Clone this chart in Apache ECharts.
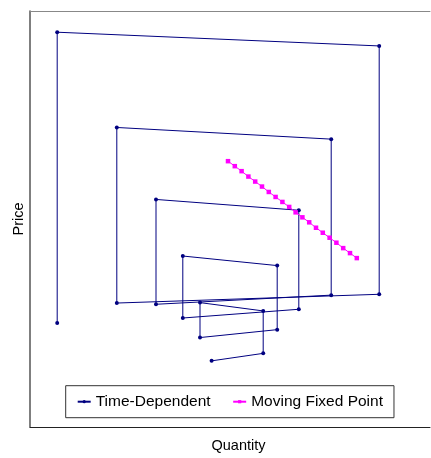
<!DOCTYPE html>
<html>
<head>
<meta charset="utf-8">
<script src="https://cdn.jsdelivr.net/npm/echarts@6/dist/echarts.min.js"></script>
<style>html,body{margin:0;padding:0;background:#fff;}#c{width:431px;height:458px;}</style>
</head>
<body>
<div id="c"></div>
<script>
// Time-dependent cobweb path (quantity, price)
var cobwebQuantity = [6.8, 6.8, 87.3, 87.3, 21.7, 21.7, 75.3, 75.3, 31.5, 31.5, 67.2, 67.2, 38.2, 38.2, 61.8, 61.8, 42.5, 42.5, 58.3, 58.3, 45.4];
var cobwebPrice    = [25.0, 94.9, 91.6, 31.9, 29.8, 72.0, 69.2, 31.7, 29.5, 54.7, 52.1, 28.3, 26.2, 41.1, 38.8, 23.4, 21.5, 29.9, 27.9, 17.7, 15.9];
// Moving fixed point (quantity, price)
var fixedQuantity = [49.5, 51.2, 52.9, 54.6, 56.3, 58.0, 59.7, 61.4, 63.1, 64.8, 66.4, 68.1, 69.8, 71.5, 73.2, 74.9, 76.6, 78.3, 80.0, 81.7];
var fixedPrice    = [63.9, 62.7, 61.5, 60.2, 59.0, 57.8, 56.5, 55.3, 54.1, 52.9, 51.6, 50.4, 49.2, 47.9, 46.7, 45.5, 44.3, 43.0, 41.8, 40.6];
var seriesNames = ['Time-Dependent', 'Moving Fixed Point'];
var axisNames = {x: 'Quantity', y: 'Price'};

function pairs(xs, ys){ return xs.map(function(x,i){ return [x, ys[i]]; }); }

var chart = echarts.init(document.getElementById('c'), null, {renderer:'canvas'});
var font = '"Liberation Sans", Arial, sans-serif';
var hidden = {axisTick: {show: false}, axisLabel: {show: false}, splitLine: {show: false}};
chart.setOption({
  animation: false,
  grid: {left: 30, top: 11, right: 1, bottom: 28.5, show: false},
  xAxis: [
    Object.assign({
      type: 'value', min: 0, max: 100, position: 'bottom',
      name: axisNames.x, nameLocation: 'middle', nameGap: 11,
      nameTextStyle: {fontFamily: font, fontSize: 14.5, color: '#000', padding: [0, 0, 0, 17]},
      axisLine: {show: true, lineStyle: {color: '#222', width: 1}}
    }, hidden),
    Object.assign({
      type: 'value', min: 0, max: 100, position: 'top',
      axisLine: {show: true, lineStyle: {color: '#888', width: 1}}
    }, hidden)
  ],
  yAxis: Object.assign({
    type: 'value', min: 0, max: 100,
    name: axisNames.y, nameLocation: 'middle', nameGap: 4,
    nameTextStyle: {fontFamily: font, fontSize: 14.5, color: '#000'},
    axisLine: {show: true, lineStyle: {color: '#555', width: 1.5}}
  }, hidden),
  legend: {
    left: 65.7, top: 385.7,
    orient: 'horizontal',
    padding: [8, 11, 8, 11],
    itemGap: 21.6, itemWidth: 13, itemHeight: 4,
    borderColor: '#333', borderWidth: 1,
    textStyle: {fontFamily: font, fontSize: 15.5, color: '#000', lineHeight: 16},
    data: seriesNames
  },
  series: [
    {
      name: seriesNames[0], type: 'line', xAxisIndex: 0,
      data: pairs(cobwebQuantity, cobwebPrice),
      symbol: 'circle', symbolSize: 4,
      lineStyle: {color: '#000080', width: 1},
      itemStyle: {color: '#000080'}
    },
    {
      name: seriesNames[1], type: 'line', xAxisIndex: 0,
      data: pairs(fixedQuantity, fixedPrice),
      symbol: 'rect', symbolSize: 4.5,
      lineStyle: {color: '#ff00ff', width: 1},
      itemStyle: {color: '#ff00ff'}
    }
  ]
});
</script>
</body>
</html>
